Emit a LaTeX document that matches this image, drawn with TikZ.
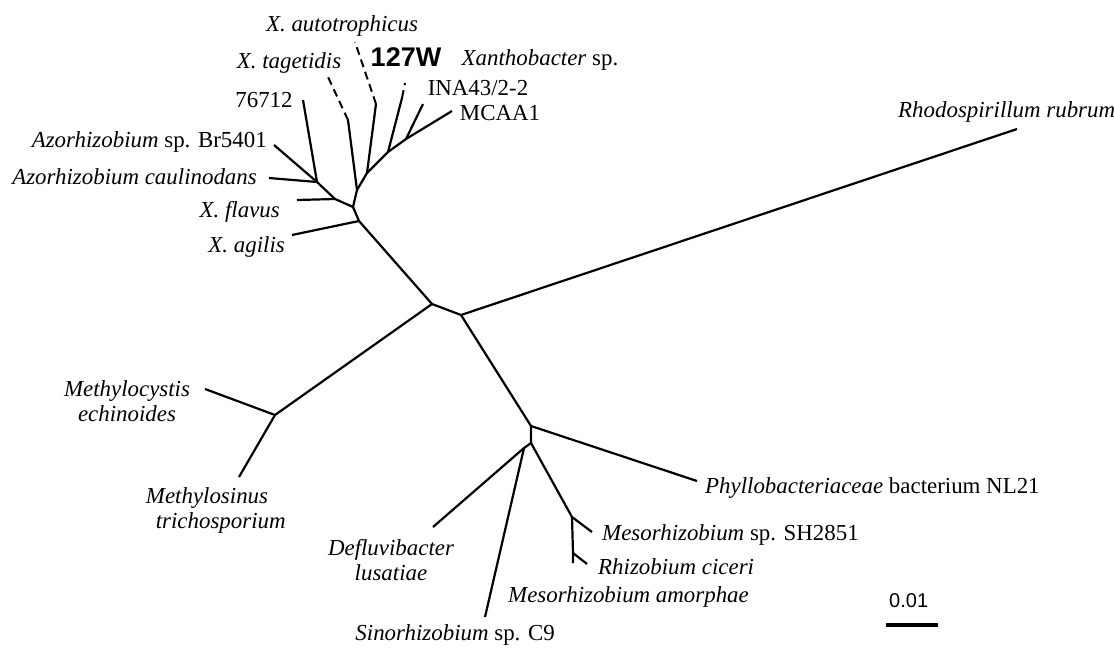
\documentclass[tikz,border=0pt]{standalone}
\usepackage{fontspec}
\setmainfont{Liberation Serif}
\newfontfamily\labelsans{Liberation Sans}
\usetikzlibrary{positioning}
\tikzset{
	branch/.style={line width=2.2pt},
	unsure/.style={line width=2pt, dash pattern=on 8pt off 5pt},
	taxon/.style={inner sep=0pt, align=center, font=\fontsize{22.9}{25}\selectfont\itshape},
	strain/.style={inner sep=0pt, font=\fontsize{22.9}{25}\selectfont},
}

\begin{document}
\begin{tikzpicture}[x=1pt, y=-1pt]
	\useasboundingbox (0,0) rectangle (1114,648);

	% inner nodes of the tree
	\coordinate (nA) at (317,182);
	\coordinate (nF) at (335,199);
	\coordinate (nB) at (353,207);
	\coordinate (nX) at (357,190);
	\coordinate (nX2) at (367,173);
	\coordinate (nX3) at (388,152);
	\coordinate (nX4) at (406,139);
	\coordinate (nC) at (359,221);
	\coordinate (nD) at (432,304);
	\coordinate (nE) at (461,315);
	\coordinate (nM) at (275,415);
	\coordinate (nG) at (531,426);
	\coordinate (nH) at (531,443);
	\coordinate (nI) at (524,448);
	\coordinate (nJ) at (572,517);
	\coordinate (nK) at (573,553);

	% leaves
	\coordinate (l76712) at (303,100);
	\coordinate (lBr) at (274,145);
	\coordinate (lCaul) at (269,178);
	\coordinate (lFlav) at (297,200);
	\coordinate (lAgil) at (292,235);
	\coordinate (lTag) at (348,120);
	\coordinate (lTagD) at (328,77);
	\coordinate (lAut) at (376,104);
	\coordinate (lAutD) at (355,42);
	\coordinate (l127) at (402,98);
	\coordinate (l127D) at (405,83);
	\coordinate (lINA) at (423,104);
	\coordinate (lMCAA) at (452,111);
	\coordinate (lRho) at (1017,129);
	\coordinate (lMcys) at (205,389);
	\coordinate (lMsin) at (239,477);
	\coordinate (lPhy) at (697,481);
	\coordinate (lDef) at (433,527);
	\coordinate (lSin) at (485,617);
	\coordinate (lSH) at (592,532);
	\coordinate (lCic) at (587,564);
	\coordinate (lAmo) at (573,563);

	% Xanthobacter / Azorhizobium part
	\draw[branch] (l76712) -- (nA);
	\draw[branch] (lBr) -- (nA);
	\draw[branch] (lCaul) -- (nA) -- (nF) -- (nB) -- (nC);
	\draw[branch] (lFlav) -- (nF);
	\draw[branch] (lAgil) -- (nC);
	\draw[branch] (nB) -- (nX) -- (lTag);
	\draw[branch] (nX) -- (nX2) -- (nX3) -- (nX4) -- (lMCAA);
	\draw[branch] (nX2) -- (lAut);
	\draw[branch] (nX3) -- (l127);
	\draw[branch] (nX4) -- (lINA);
	\draw[unsure] (lTag) -- (lTagD);
	\draw[unsure] (lAut) -- (lAutD);
	\draw[unsure] (l127) -- (l127D);

	% backbone
	\draw[branch] (nC) -- (nD) -- (nE) -- (lRho);
	\draw[branch] (nD) -- (nM) -- (lMcys);
	\draw[branch] (nM) -- (lMsin);
	\draw[branch] (nE) -- (nG) -- (lPhy);
	\draw[branch] (nG) -- (nH) -- (nI) -- (lDef);
	\draw[branch] (nI) -- (lSin);
	\draw[branch] (nH) -- (nJ) -- (lSH);
	\draw[branch] (nJ) -- (nK) -- (lAmo);
	\draw[branch] (nK) -- (lCic);

	% labels
	\node[taxon] (tAut) at (342,26) {X. autotrophicus};
	\node[taxon] (tTag) at (289,63) {X. tagetidis};
	\node[inner sep=0pt, font=\labelsans\fontsize{27}{30}\selectfont\bfseries] (t127) at (406,57) {127W};
	\node[strain] (tXsp) at (540,60) {\textit{Xanthobacter} sp.};
	\node[strain] (t76712) at (264,100) {76712};
	\node[strain] (tINA) at (478,88) {INA43/2-2};
	\node[strain] (tMCAA) at (500,113) {MCAA1};
	\node[strain, anchor=east] (tBr) at (267,142) {\textit{Azorhizobium} sp. Br5401};
	\node[taxon, anchor=east] (tCaul) at (257,177) {Azorhizobium caulinodans};
	\node[taxon, anchor=east] (tFlav) at (280,212) {X. flavus};
	\node[taxon, anchor=east] (tAgil) at (285,247) {X. agilis};
	\node[taxon, anchor=west] (tRho) at (898,112) {Rhodospirillum rubrum};
	\node[taxon] (tMcys) at (127,401) {Methylocystis\\echinoides};
	\node[taxon] (tMsin) at (207,510) {Methylosinus\\\hspace{1.2em}trichosporium};
	\node[taxon] (tDef) at (391,560) {Defluvibacter\\lusatiae\hspace{1.5em}};
	\node[strain, anchor=east] (tSin) at (555,635) {\textit{Sinorhizobium} sp. C9};
	\node[taxon, anchor=west] (tAmo) at (508,597) {Mesorhizobium amorphae};
	\node[taxon, anchor=west] (tCic) at (598,567) {Rhizobium ciceri};
	\node[strain, anchor=west] (tSH) at (602,535) {\textit{Mesorhizobium} sp. SH2851};
	\node[strain, anchor=west] (tPhy) at (705,488) {\textit{Phyllobacteriaceae} bacterium NL21};

	% scale bar
	\coordinate (sL) at (886,625);
	\coordinate (sR) at (938,625);
	\draw[line width=4pt] (sL) -- (sR);
	\node[inner sep=0pt, anchor=west, font=\labelsans\fontsize{20}{22}\selectfont] (tScale) at (889,601) {0.01};
\end{tikzpicture}
\end{document}
